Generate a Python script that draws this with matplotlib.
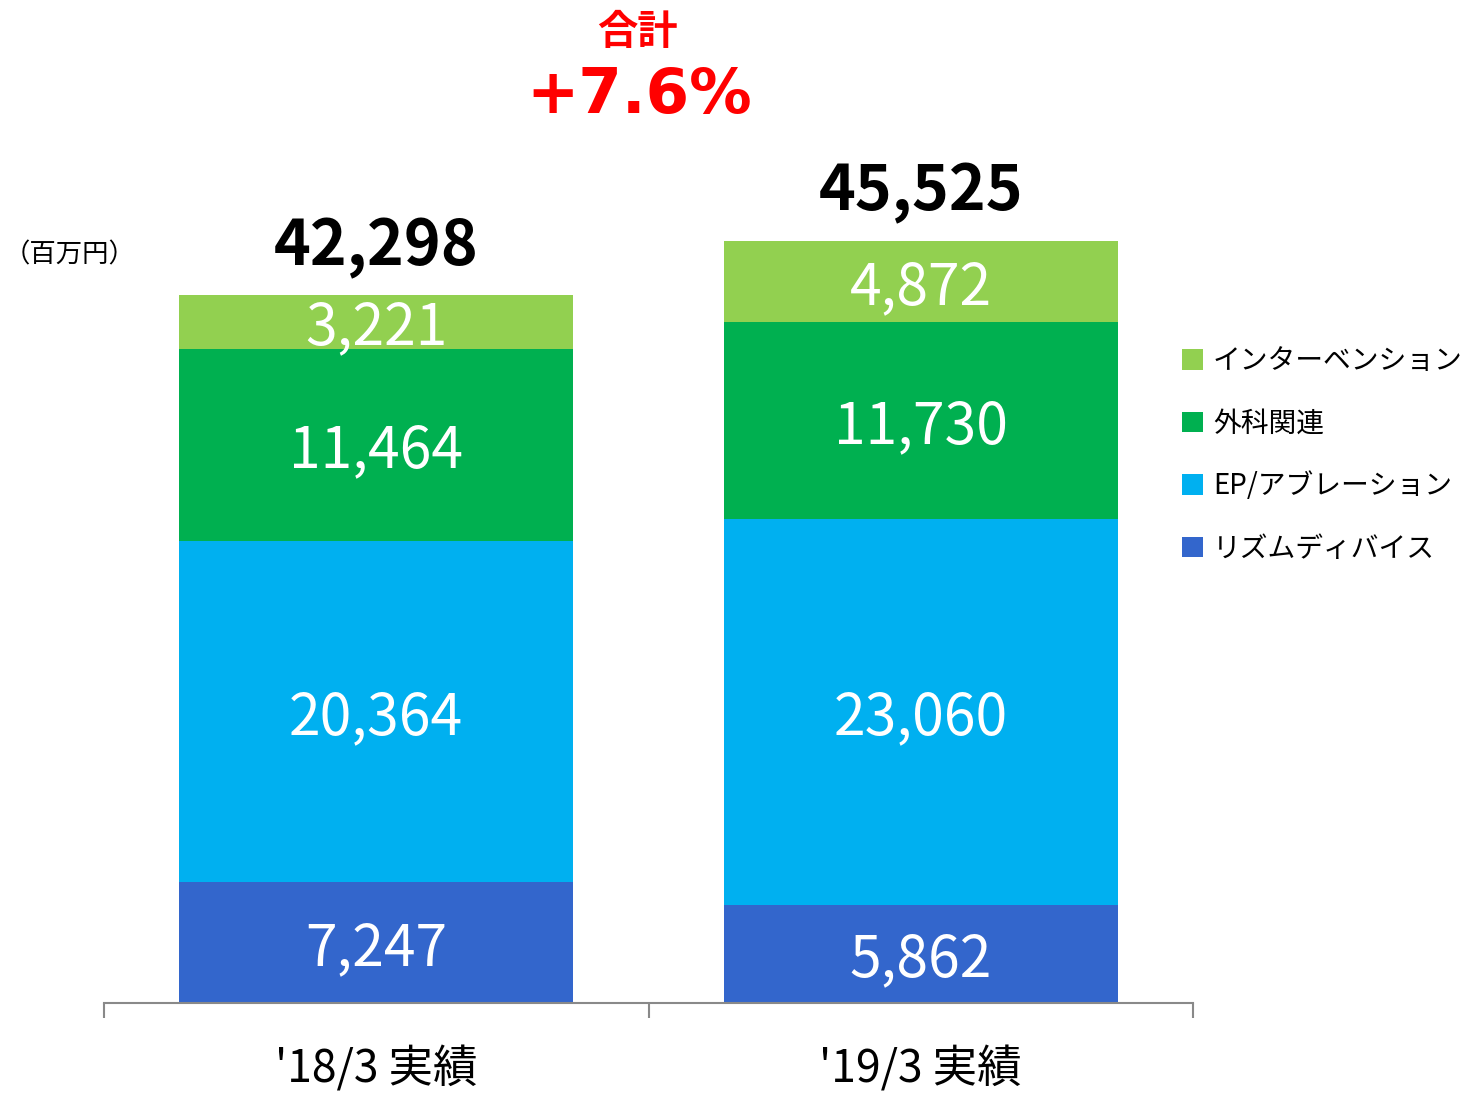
import matplotlib
matplotlib.use('Agg')
import matplotlib.pyplot as plt
import numpy as np

plt.rcParams['font.family'] = ['Noto Sans CJK JP', 'DejaVu Sans']

categories = ["'18/3 実績", "'19/3 実績"]
series = ['リズムディバイス', 'EP/アブレーション', '外科関連', 'インターベンション']
rhythm = [7247, 5862]
ep = [20364, 23060]
surgery = [11464, 11730]
intervention = [3221, 4872]
totals = ['42,298', '45,525']
colors = ['#3366CC', '#00B0F0', '#00B050', '#92D050']

values = [rhythm, ep, surgery, intervention]

fig = plt.figure(figsize=(14.74, 10.94), dpi=100)
ax = fig.add_axes([104 / 1474, 91 / 1094, 1089 / 1474, 837 / 1094])

x = np.arange(len(categories))
bottom = np.zeros(len(categories))
handles = []
for name, vals, c in zip(series, values, colors):
    bars = ax.bar(x, vals, width=0.723, bottom=bottom, color=c, label=name)
    handles.append(bars)
    for xi, v, b in zip(x, vals, bottom):
        ax.text(xi, b + v / 2, f'{v:,}', ha='center', va='center_baseline',
                color='white', fontsize=41)
    bottom += np.array(vals)

for xi, top, t in zip(x, bottom, totals):
    ax.text(xi, top + 1800, t, ha='center', va='baseline', color='black',
            fontsize=45, fontweight='bold')

ax.set_xlim(-0.5, 1.5)
ax.set_ylim(0, 50000)
for s in ['top', 'right', 'left']:
    ax.spines[s].set_visible(False)
ax.spines['bottom'].set_color('#898989')
ax.spines['bottom'].set_linewidth(1.5)
ax.set_yticks([])
ax.set_xticks([-0.5, 0.5, 1.5])
ax.set_xticklabels([])
ax.tick_params(axis='x', direction='out', length=11, width=1.5, color='#898989')

for xi, lab in zip(x, categories):
    ax.text(xi, -0.08, lab, transform=ax.get_xaxis_transform(),
            ha='center', va='center', fontsize=32)

fig.text(4 / 1474, 1 - 255 / 1094, '（百万円）', ha='left', va='center', fontsize=19)
fig.text(637 / 1474, 1 - 33 / 1094, '合計', ha='center', va='center',
         color='#FF0000', fontsize=29, fontweight='bold')
fig.text(639 / 1474, 1 - 96 / 1094, '+7.6%', ha='center', va='center',
         color='#FF0000', fontsize=45, fontweight='bold', family='DejaVu Sans')

leg = fig.legend(handles[::-1], series[::-1], loc='upper left',
                 bbox_to_anchor=(1171 / 1474, 1 - 335 / 1094), frameon=False,
                 fontsize=20, handlelength=0.75, handleheight=0.75,
                 handletextpad=0.36, labelspacing=1.17, borderaxespad=0)

fig.savefig('out.png', dpi=100)
